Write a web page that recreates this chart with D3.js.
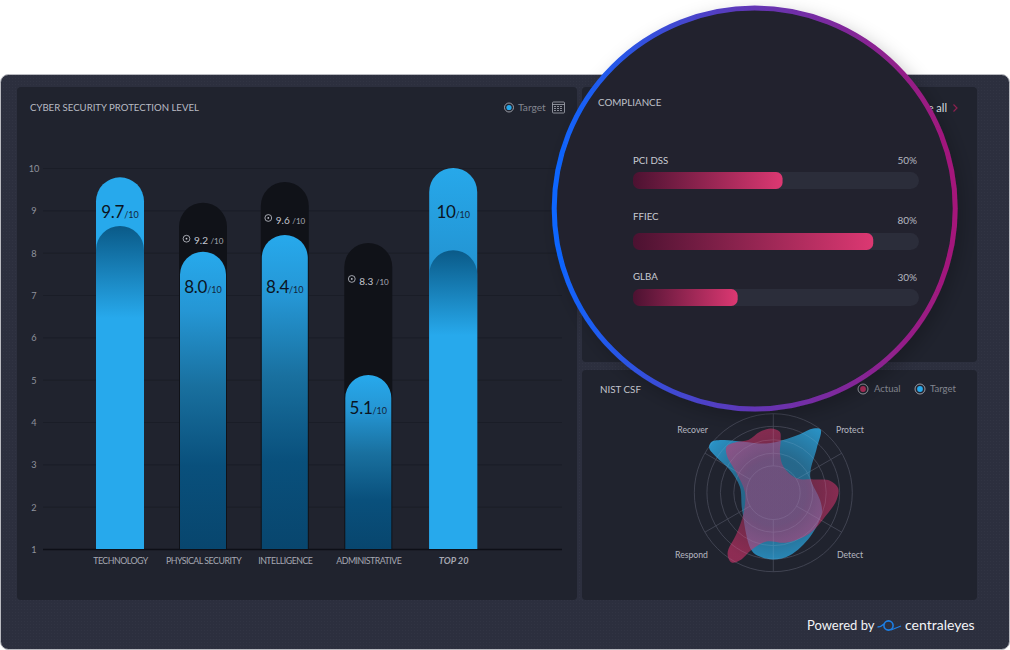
<!DOCTYPE html>
<html>
<head>
<meta charset="utf-8">
<script src="https://cdn.jsdelivr.net/npm/d3@7"></script>
<style>
  html, body { margin: 0; padding: 0; background: #fff; }
  svg { display: block; }
  text { font-family: Lato, "Open Sans", sans-serif; }
</style>
</head>
<body>
<div id="chart"></div>
<script>
// ---- data ----
var categories = ["TECHNOLOGY", "PHYSICAL SECURITY", "INTELLIGENCE", "ADMINISTRATIVE", "TOP 20"];
var outerValues = [9.78, 9.18, 9.67, 8.23, 10];
var innerValues = [8.63, 8.02, 8.42, 5.11, 8.06];
var scoreLabels = ["9.7", "8.0", "8.4", "5.1", "10"];
var targetLabels = [null, "9.2", "9.6", "8.3", null];
var yTicks = [1, 2, 3, 4, 5, 6, 7, 8, 9, 10];

var complianceNames = ["PCI DSS", "FFIEC", "GLBA"];
var complianceLabels = ["50%", "80%", "30%"];
var complianceFill = [52.3, 84, 36.6];

var radarAxes = ["Recover", "Protect", "Detect", "Respond"];
var targetAngles = [10.7, 24.4, 31.9, 36.8, 44.4, 58.7, 70, 99, 113, 140, 165, 180, 192, 201, 241, 280, 297.6, 302, 305, 309.6, 316.5, 329.5, 352];
var targetRadii = [67.9, 81.4, 95.8, 100, 78.5, 55.3, 50.2, 59.9, 66.7, 72.6, 81.9, 84.4, 82.7, 77.6, 45.1, 43, 62, 84.8, 99.2, 101.3, 92, 74.9, 62.9];
var actualAngles = [6, 8, 9.6, 21, 58, 71.6, 78, 86, 96.6, 115, 138, 165, 188, 201, 206, 210.8, 217, 222, 235, 271, 297.8, 309, 314.6, 324, 334.6, 347.7, 358];
var actualRadii = [77.6, 67.5, 50.6, 35.4, 34.6, 53.2, 73.4, 82.3, 80.6, 72.2, 69.2, 65.4, 62.4, 77.6, 94.9, 103, 96.2, 69.2, 46, 35.9, 52.3, 75.9, 83.1, 79.3, 73.8, 78.9, 81.4];

// ---- layout ----
var width = 1010, height = 650;
var barCenters = [120, 203, 284.8, 368.3, 453.2];
var scoreLabelAt = [8.94, 7.19, 7.19, 4.33, 8.94];
var rowTops = [172, 233, 289];
var nameMid = [160.5, 216.5, 277];
var pctMid = [160, 220, 277];

var svg = d3.select("#chart").append("svg").attr("width", width).attr("height", height);
var defs = svg.append("defs");

function gradient(id, x2, y2, stops) {
  var g = defs.append("linearGradient").attr("id", id)
      .attr("x1", 0).attr("y1", 0).attr("x2", x2).attr("y2", y2);
  stops.forEach(function (s) {
    g.append("stop").attr("offset", s[0]).attr("stop-color", s[1]);
  });
}
gradient("tallTop", 0, 1, [[0, "#27a8ea"], [0.3, "#2291cf"], [1, "#2291cf"]]);
gradient("dome", 0, 1, [[0, "#0a5a88"], [0.285, "#27a9ec"], [1, "#27a9ec"]]);
gradient("actual", 0, 1, [[0, "#27a9ec"], [0.2, "#2596d4"], [0.45, "#19709f"], [0.72, "#09507c"], [1, "#08466e"]]);
gradient("pinkBar", 1, 0, [[0, "#4c1231"], [1, "#dc3872"]]);
gradient("ring", 1, 0, [[0, "#0d66ff"], [0.5, "#6335b4"], [1, "#a5177a"]]);

var dots = defs.append("pattern").attr("id", "dots")
    .attr("width", 3).attr("height", 3).attr("patternUnits", "userSpaceOnUse");
dots.append("rect").attr("width", 1).attr("height", 1).attr("fill", "rgba(255,255,255,0.025)");

var shadow = defs.append("filter").attr("id", "shadow")
    .attr("x", "-15%").attr("y", "-15%").attr("width", "130%").attr("height", "130%");
shadow.append("feDropShadow").attr("dx", 5).attr("dy", 6).attr("stdDeviation", 9)
    .attr("flood-color", "#000").attr("flood-opacity", 0.22);

function radial(id, inner, outer, c, r) {
  var g = defs.append("radialGradient").attr("id", id).attr("gradientUnits", "userSpaceOnUse")
      .attr("cx", c[0]).attr("cy", c[1]).attr("r", r);
  g.append("stop").attr("offset", 0).attr("stop-color", inner[0]).attr("stop-opacity", inner[1]);
  g.append("stop").attr("offset", 0.45).attr("stop-color", inner[0]).attr("stop-opacity", inner[1]);
  g.append("stop").attr("offset", 1).attr("stop-color", outer[0]).attr("stop-opacity", outer[1]);
}

// ---- panels ----
svg.append("rect").attr("x", 0.5).attr("y", 74.5).attr("width", 1009).attr("height", 575).attr("rx", 8)
    .attr("fill", "#2c2f3e").attr("stroke", "#b9bac0");
svg.append("rect").attr("x", 1).attr("y", 75).attr("width", 1008).attr("height", 574).attr("rx", 8)
    .attr("fill", "url(#dots)");
[[17, 87, 560, 513], [582, 87, 395, 275], [582, 370, 395, 230]].forEach(function (p) {
  svg.append("rect").attr("x", p[0]).attr("y", p[1]).attr("width", p[2]).attr("height", p[3])
      .attr("rx", 4).attr("fill", "#20232e");
});

function label(g, x, y, txt, size, color, anchor) {
  return g.append("text").attr("x", x).attr("y", y).attr("dy", "0.35em")
      .attr("text-anchor", anchor || "start")
      .attr("font-size", size).attr("fill", color).text(txt);
}

function ringIcon(g, x, y, r, fill) {
  g.append("circle").attr("cx", x).attr("cy", y).attr("r", r)
      .attr("fill", "none").attr("stroke", "#b5b7c0").attr("stroke-width", 0.8);
  g.append("circle").attr("cx", x).attr("cy", y).attr("r", r * 0.58).attr("fill", fill);
}

// ---- left chart ----
var left = svg.append("g");
label(left, 30, 107.5, "CYBER SECURITY PROTECTION LEVEL", 9.6, "#b9bbc4");
ringIcon(left, 509, 107.5, 4.5, "#27a9ec");
label(left, 518, 107.5, "Target", 10.2, "#82858f");

// calendar icon
var cal = left.append("g").attr("stroke", "#a6a8b2").attr("fill", "none").attr("stroke-width", 0.8);
cal.append("rect").attr("x", 552.5).attr("y", 102).attr("width", 12).attr("height", 11).attr("rx", 1);
cal.append("line").attr("x1", 552.5).attr("x2", 564.5).attr("y1", 104.5).attr("y2", 104.5);
[106.5, 108.5, 110.5].forEach(function (yy) {
  cal.append("line").attr("x1", 554).attr("x2", 563).attr("y1", yy).attr("y2", yy)
      .attr("stroke-dasharray", "2 1");
});

var y = d3.scaleLinear().domain([1, 10]).range([549, 168]);
var x = d3.scaleOrdinal().domain(categories).range(barCenters);

var yAxis = d3.axisLeft(y).tickValues(yTicks).tickFormat(d3.format("d"))
    .tickSize(-519).tickPadding(5);
var yG = left.append("g").attr("transform", "translate(43,0)").call(yAxis);
yG.select(".domain").remove();
yG.selectAll(".tick line").attr("stroke", d => d === 1 ? "#0d0f17" : "#1a1d27")
    .attr("stroke-width", d => d === 1 ? 1.5 : 1);
yG.selectAll(".tick text").attr("font-size", 9.2).attr("fill", "#8f929c")
    .attr("font-family", "Lato").attr("text-anchor", "middle").attr("x", -9).attr("y", 0.5);

var xAxis = d3.axisBottom(x).tickSize(0).tickPadding(0);
var xG = left.append("g").attr("transform", "translate(0,561)").call(xAxis);
xG.select(".domain").remove();
xG.selectAll(".tick text").attr("font-size", d => d === "TOP 20" ? 9.2 : 8.8).attr("fill", "#a6a8b2")
    .attr("font-family", "Lato").attr("dy", "0.35em").attr("y", 0)
    .attr("letter-spacing", d => d === "TOP 20" ? 0 : -0.49)
    .attr("font-style", d => d === "TOP 20" ? "italic" : null)
    .attr("font-weight", d => d === "TOP 20" ? 700 : null);

function domePath(cx, topY, w) {
  var r = w / 2, p = d3.path();
  p.moveTo(cx - r, y(1));
  p.lineTo(cx - r, topY + r);
  p.arc(cx, topY + r, r, Math.PI, 0);
  p.lineTo(cx + r, y(1));
  p.closePath();
  return p.toString();
}

var barGroups = left.selectAll(".bar").data(categories).join("g").attr("class", "bar");

barGroups.each(function (c, i) {
  var g = d3.select(this);
  var cx = x(c);
  var isTarget = targetLabels[i] !== null;
  // outer shape: dark target bar, or bright tall bar
  g.append("path").attr("d", domePath(cx, y(outerValues[i]), 48))
      .attr("fill", isTarget ? "#101218" : (i === 4 ? "url(#tallTop)" : "#27a9ec"));
  g.append("path").attr("d", domePath(cx, y(innerValues[i]), isTarget ? 46 : 48))
      .attr("fill", isTarget ? "url(#actual)" : "url(#dome)");

  var t = g.append("text").attr("x", cx).attr("y", y(scoreLabelAt[i])).attr("dy", "0.35em")
      .attr("text-anchor", "middle").attr("fill", "#0b1422");
  t.append("tspan").attr("font-size", 17).attr("letter-spacing", -0.3).text(scoreLabels[i]);
  t.append("tspan").attr("font-size", 9).attr("fill", "#12263c").text("/10");

  if (isTarget) {
    var ty = y(outerValues[i]) + 36;
    g.append("circle").attr("cx", cx - 16.5).attr("cy", ty).attr("r", 3.4)
        .attr("fill", "none").attr("stroke", "#c4c6cf").attr("stroke-width", 0.8);
    g.append("circle").attr("cx", cx - 16.5).attr("cy", ty).attr("r", 0.9).attr("fill", "#c4c6cf");
    var tt = g.append("text").attr("x", cx - 9).attr("y", ty).attr("dy", "0.35em").attr("fill", "#c4c6cf");
    tt.append("tspan").attr("font-size", 10).text(targetLabels[i]);
    tt.append("tspan").attr("font-size", 8).attr("dx", 2.5).attr("fill", "#a8aab4").text("/10");
  }
});

// ---- radar ----
var radarC = [773.3, 492.7];
var radar = svg.append("g").attr("transform", "translate(" + radarC + ")");
var r = d3.scaleLinear().domain([0, 100]).range([0, 79]);

label(svg, 600, 389.5, "NIST CSF", 9.8, "#c3c5cd");
ringIcon(svg, 863, 389, 5, "#b02e5c");
label(svg, 874, 389, "Actual", 9.5, "#82858f");
ringIcon(svg, 920, 389, 5, "#27a9ec");
label(svg, 930, 389, "Target", 9.5, "#82858f");

var ringValues = [34, 50, 67, 84, 100];
var spokes = [0, 60, 120, 180, 240, 300];
function drawGrid(g, color) {
  ringValues.forEach(function (v) {
    g.append("circle").attr("r", r(v)).attr("fill", "none")
        .attr("stroke", color).attr("stroke-width", 0.8);
  });
  spokes.forEach(function (deg) {
    var a = deg * Math.PI / 180;
    g.append("line").attr("x1", r(34) * Math.sin(a)).attr("y1", -r(34) * Math.cos(a))
        .attr("x2", r(100) * Math.sin(a)).attr("y2", -r(100) * Math.cos(a))
        .attr("stroke", color).attr("stroke-width", 0.8);
  });
}
drawGrid(radar, "#363946");

radial("blueFill", ["#2b9fd6", 0.55], ["#2ba3dc", 0.88], [0, 0], 80);
radial("pinkFill", ["#d0326a", 0.42], ["#d0326a", 0.62], [0, 0], 72);

var blob = d3.lineRadial()
    .angle(d => d[0] * Math.PI / 180)
    .radius(d => r(d[1]))
    .curve(d3.curveCatmullRomClosed.alpha(0.5));

radar.append("path").attr("d", blob(d3.zip(targetAngles, targetRadii))).attr("fill", "url(#blueFill)");
radar.append("path").attr("d", blob(d3.zip(actualAngles, actualRadii))).attr("fill", "url(#pinkFill)");
// the rings show faintly through the shapes
drawGrid(radar.append("g").attr("opacity", 0.13), "#c0c4d8");

var radarLabelX = [708, 836, 837, 708];
var radarLabelY = [430, 430, 555, 555];
radarAxes.forEach(function (n, i) {
  label(svg, radarLabelX[i], radarLabelY[i], n, 8.7, "#b5b7c0", i === 0 || i === 3 ? "end" : "start");
});

// ---- "see all" sits under the lens ----
label(svg, 947, 108, "See all", 11, "#dfe0e5", "end");
svg.append("path").attr("d", "M953.5 104.5 L957 108 L953.5 111.5").attr("fill", "none")
    .attr("stroke", "#8e2050").attr("stroke-width", 1.2);

// ---- lens with compliance ----
var lens = svg.append("g");
lens.append("circle").attr("cx", 754.7).attr("cy", 208.5).attr("r", 200.5)
    .attr("fill", "#20232e").attr("stroke", "url(#ring)").attr("stroke-width", 5)
    .attr("filter", "url(#shadow)");

label(lens, 598, 102.5, "COMPLIANCE", 9.8, "#bfc1c9");

var pct = d3.scaleLinear().domain([0, 100]).range([633, 919]);
complianceNames.forEach(function (n, i) {
  label(lens, 633, nameMid[i], n, 9.7, "#c9cbd2");
  label(lens, 917, pctMid[i], complianceLabels[i], 10, "#b5b7c0", "end");
  lens.append("rect").attr("x", pct(0)).attr("y", rowTops[i])
      .attr("width", pct(100) - pct(0)).attr("height", 17).attr("rx", 8.5).attr("fill", "#2b2d3a");
  lens.append("rect").attr("x", pct(0)).attr("y", rowTops[i])
      .attr("width", pct(complianceFill[i]) - pct(0)).attr("height", 17).attr("rx", 6.5)
      .attr("fill", "url(#pinkBar)");
});

// ---- footer ----
var foot = svg.append("g");
label(foot, 807, 625, "Powered by", 13, "#f2f3f6").attr("font-family", "Inter, Lato, sans-serif");
foot.append("circle").attr("cx", 888.5).attr("cy", 625.5).attr("r", 4.6)
    .attr("fill", "none").attr("stroke", "#1c7fe6").attr("stroke-width", 1.6);
foot.append("path").attr("d", "M877.5 627 Q881 627 884 624 M891 630 Q896 628 901 626")
    .attr("fill", "none").attr("stroke", "#1c7fe6").attr("stroke-width", 1.3);
label(foot, 905, 625, "centraleyes", 14, "#f2f3f6").attr("font-family", "Inter, Lato, sans-serif");
</script>
</body>
</html>
